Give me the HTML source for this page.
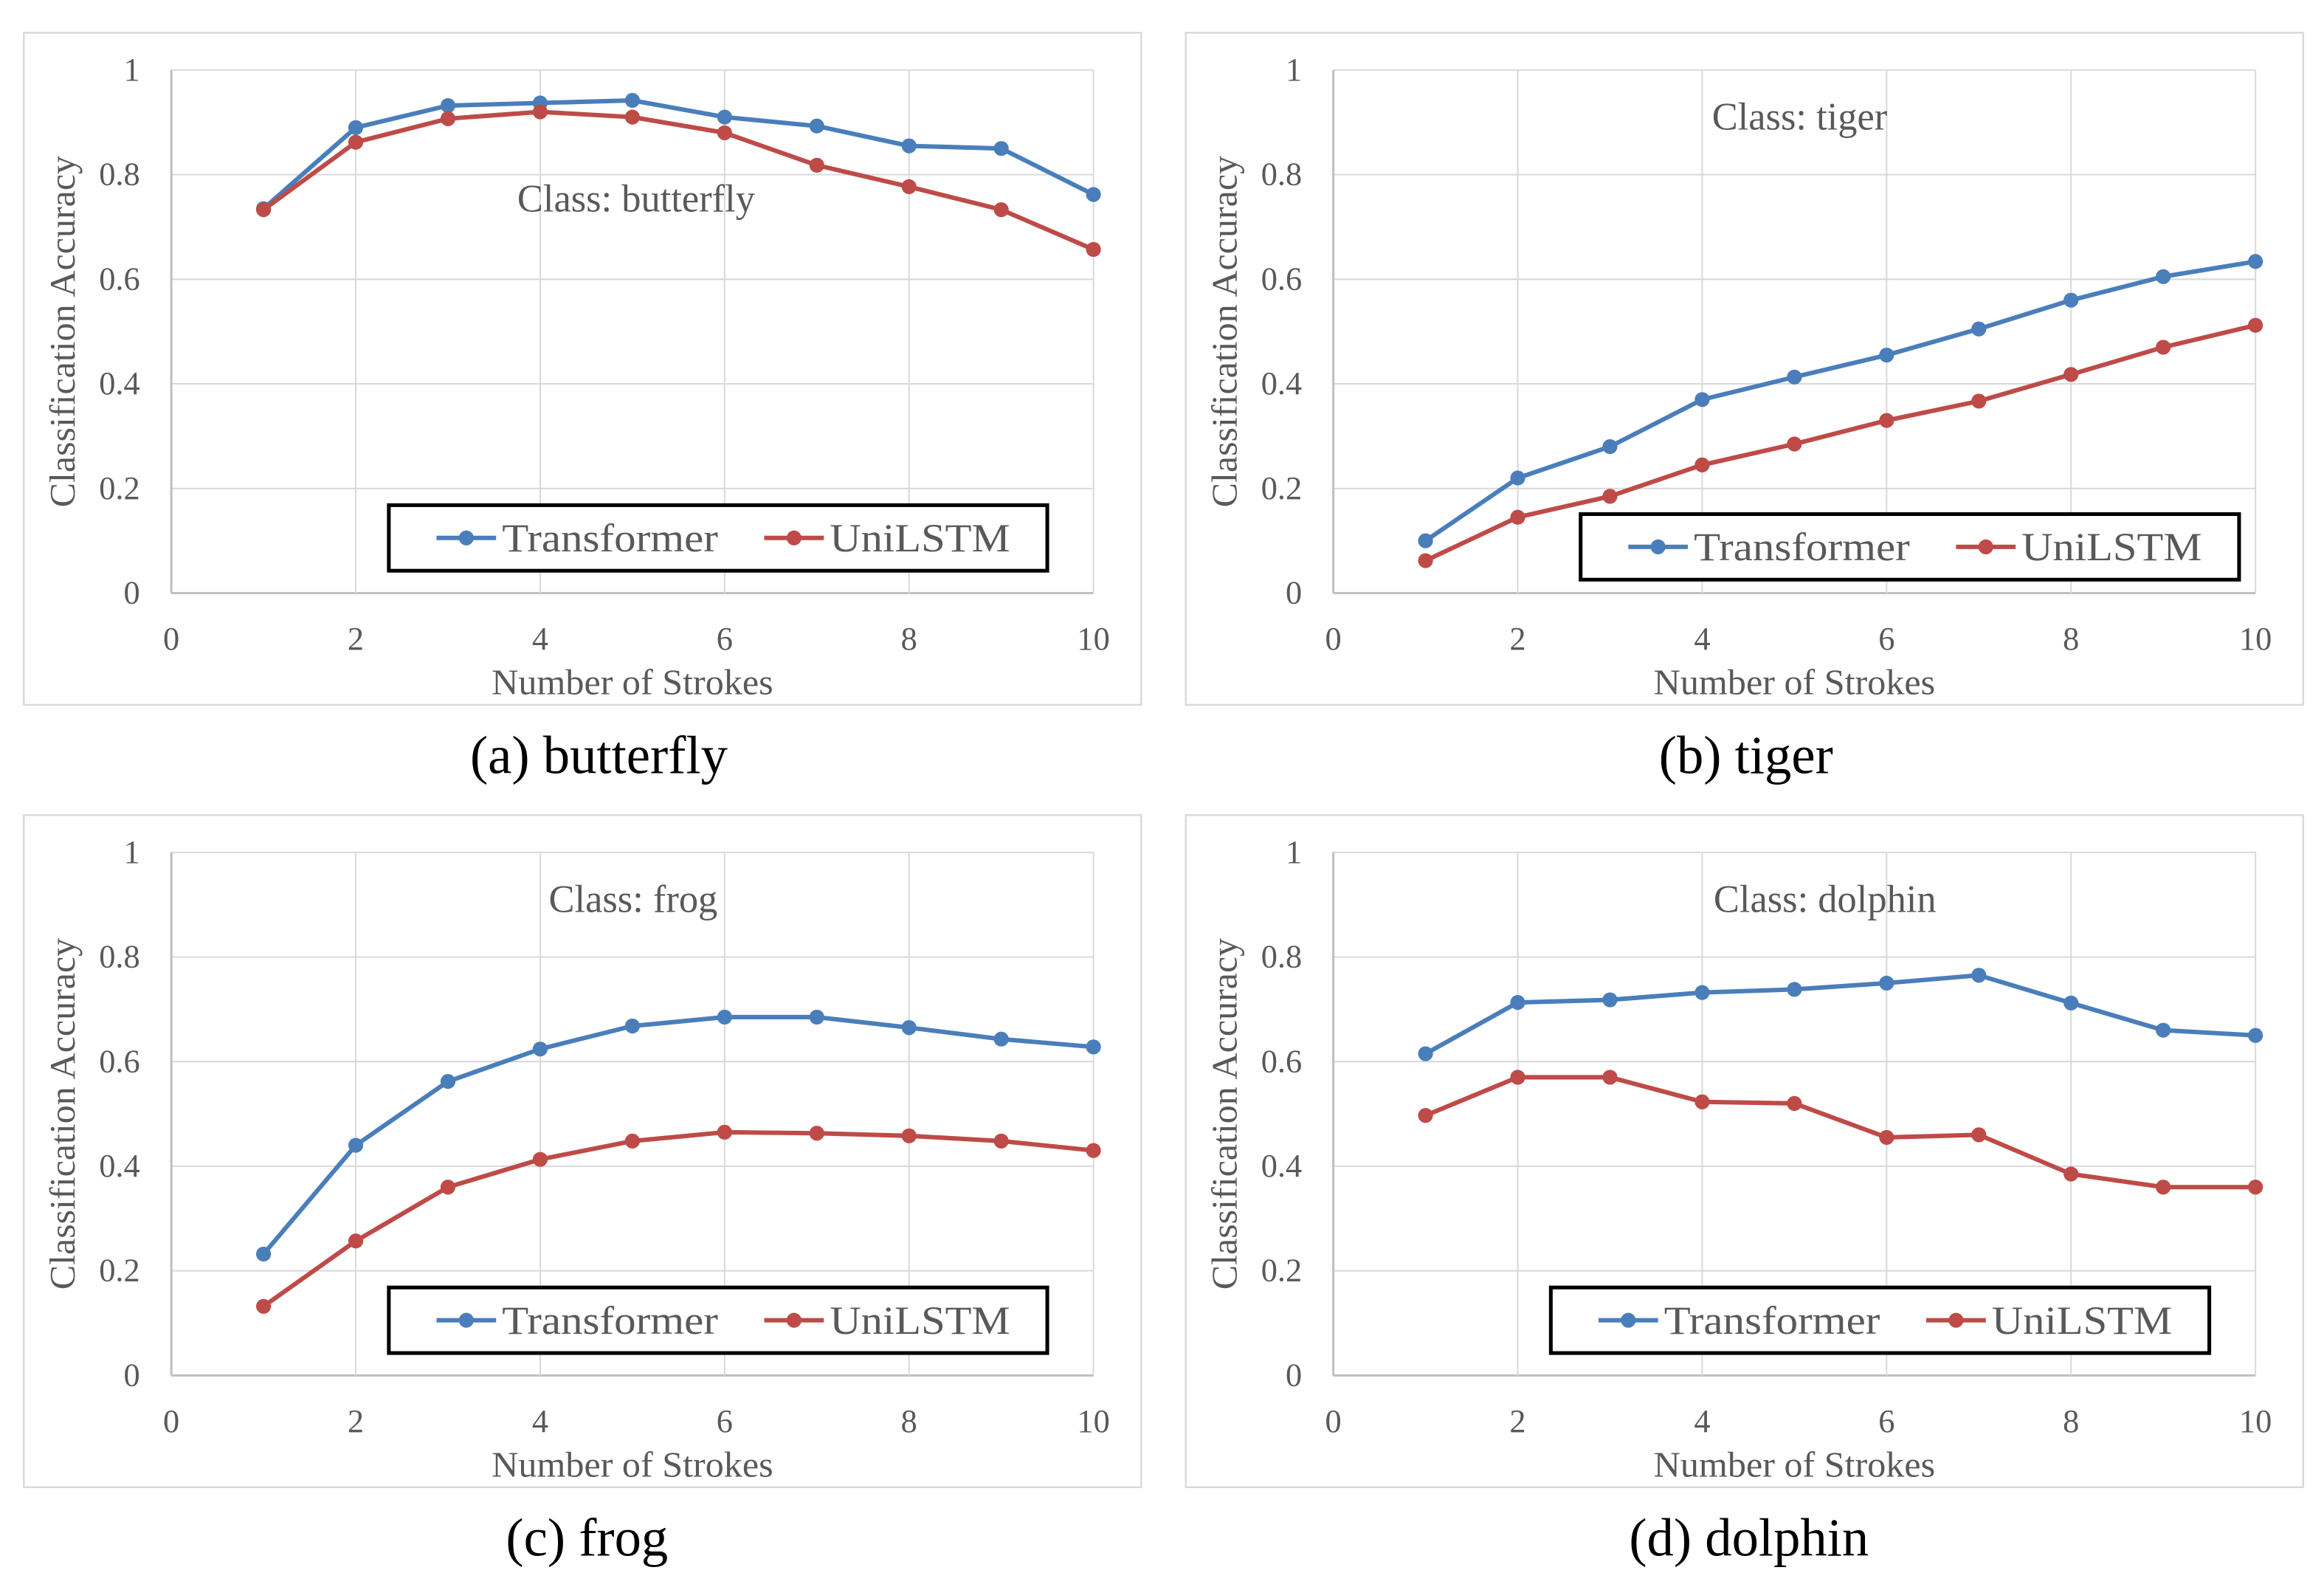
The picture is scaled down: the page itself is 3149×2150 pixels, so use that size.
<!DOCTYPE html>
<html><head><meta charset="utf-8"><style>
html,body{margin:0;padding:0;background:#fff;}
svg{display:block;}
text{font-family:"Liberation Serif",serif;}
</style></head>
<body>
<svg id="fig" width="3149" height="2150" viewBox="0 0 1560 1065" preserveAspectRatio="none" xmlns="http://www.w3.org/2000/svg"></svg>
<script>
const strokes = [1,2,3,4,5,6,7,8,9,10];
const xTicks = [0,2,4,6,8,10];
const yTicks = [0,0.2,0.4,0.6,0.8,1];
const yTickLabels = ["0","0.2","0.4","0.6","0.8","1"];
const butterflyTransformer = [.735,.89,.932,.937,.942,.91,.893,.855,.85,.762];
const butterflyUniLSTM = [.733,.862,.907,.92,.91,.88,.818,.777,.733,.657];
const tigerTransformer = [.10,.22,.28,.37,.413,.455,.505,.56,.605,.634];
const tigerUniLSTM = [.062,.145,.185,.245,.285,.33,.367,.418,.47,.512];
const frogTransformer = [.232,.44,.562,.624,.668,.685,.685,.665,.643,.628];
const frogUniLSTM = [.132,.257,.36,.413,.448,.465,.463,.458,.448,.43];
const dolphinTransformer = [.615,.713,.718,.732,.738,.75,.765,.712,.66,.65];
const dolphinUniLSTM = [.497,.57,.57,.523,.52,.455,.46,.385,.36,.36];
const panelNames = ["butterfly","tiger","frog","dolphin"];
const captions = ["(a) butterfly","(b) tiger","(c) frog","(d) dolphin"];

const NS="http://www.w3.org/2000/svg";
const svg=document.getElementById('fig');
function mk(tag,attrs,parent,txt){const e=document.createElementNS(NS,tag);for(const k in attrs)e.setAttribute(k,attrs[k]);if(txt!==undefined)e.textContent=txt;(parent||svg).appendChild(e);return e;}

const layouts=[
 {ox:0,oy:0,T:butterflyTransformer,U:butterflyUniLSTM,label:[427,133],leg:[261,339]},
 {ox:780,oy:0,T:tigerTransformer,U:tigerUniLSTM,label:[1208,78],leg:[1061,345]},
 {ox:0,oy:525,T:frogTransformer,U:frogUniLSTM,label:[425,603],leg:[261,864]},
 {ox:780,oy:525,T:dolphinTransformer,U:dolphinUniLSTM,label:[1225,603],leg:[1041,864]}
];
const BLUE="#4a7ebb",RED="#be4b48";
layouts.forEach((L,i)=>{
  const g=mk('g',{});
  
  
  const x0=115+L.ox,x1=734+L.ox,yTop=47+L.oy,yBot=398+L.oy;
  const xs=v=>x0+(x1-x0)*v/10, ys=v=>yBot-(yBot-yTop)*v;
  const frame=mk('rect',{x:16+L.ox,y:22+L.oy,width:750,height:451,fill:'none',stroke:'#d9d9d9','stroke-width':1.2},g);
  
  
  yTicks.forEach((t,k)=>{
    mk('line',{x1:x0,x2:x1,y1:ys(t),y2:ys(t),stroke:k===0?'#bfbfbf':'#d9d9d9','stroke-width':k===0?1.5:1},g);
    const tl=mk('text',{x:x0-21,y:ys(t)+7,'text-anchor':'end','font-size':22,fill:'#595959'},g,yTickLabels[k]);
    
    
  });
  xTicks.forEach(t=>{
    mk('line',{x1:xs(t),x2:xs(t),y1:yTop,y2:yBot,stroke:t===0?'#bfbfbf':'#d9d9d9','stroke-width':t===0?1.5:1},g);
    const tl=mk('text',{x:xs(t),y:yBot+38,'text-anchor':'middle','font-size':22,fill:'#595959'},g,String(t));
    
    
  });
  const xt=mk('text',{x:(x0+x1)/2,y:yBot+68,'text-anchor':'middle','font-size':24,fill:'#595959',textLength:189,lengthAdjust:'spacingAndGlyphs'},g,'Number of Strokes');
  
  
  const cy=(yTop+yBot)/2;
  const yt=mk('text',{x:50+L.ox,y:cy,'text-anchor':'middle','font-size':24,fill:'#595959',textLength:236,lengthAdjust:'spacingAndGlyphs',transform:`rotate(-90 ${50+L.ox} ${cy})`},g,'Classification Accuracy');
  
  
  const cl=mk('text',{x:L.label[0],y:L.label[1]+9,'text-anchor':'middle','font-size':26,fill:'#595959'},g,'Class: '+panelNames[i]);
  
  
  [[L.T,BLUE,'transformer'],[L.U,RED,'unilstm']].forEach(([arr,col,nm])=>{
    const pts=strokes.map((s,k)=>xs(s)+','+ys(arr[k])).join(' ');
    const pl=mk('polyline',{points:pts,fill:'none',stroke:col,'stroke-width':3,'stroke-linejoin':'round'},g);
    
    
    strokes.forEach((s,k)=>{
      const c=mk('circle',{cx:xs(s),cy:ys(arr[k]),r:5,fill:col},g);
      
      
    });
  });
  const lx=L.leg[0],ly=L.leg[1];
  const lg=mk('g',{},g);
  
  
  mk('rect',{x:lx,y:ly,width:442,height:44,fill:'#fff',stroke:'#000','stroke-width':2.5},lg);
  [[BLUE,'Transformer',32,145],[RED,'UniLSTM',252,121]].forEach(([col,t,dx,w])=>{
    const e=mk('g',{},lg);
    
    
    mk('line',{x1:lx+dx,x2:lx+dx+40,y1:ly+22,y2:ly+22,stroke:col,'stroke-width':3},e);
    mk('circle',{cx:lx+dx+20,cy:ly+22,r:5,fill:col},e);
    mk('text',{x:lx+dx+44,y:ly+31,'font-size':27,fill:'#595959',textLength:w,lengthAdjust:'spacingAndGlyphs'},e,t);
  });
  const capCx=[402,1172,394,1174][i];
  const cap=mk('text',{x:capCx,y:519+L.oy,'text-anchor':'middle','font-size':36,fill:'#000'},g,captions[i]);
  
  
});
</script>
</body></html>
